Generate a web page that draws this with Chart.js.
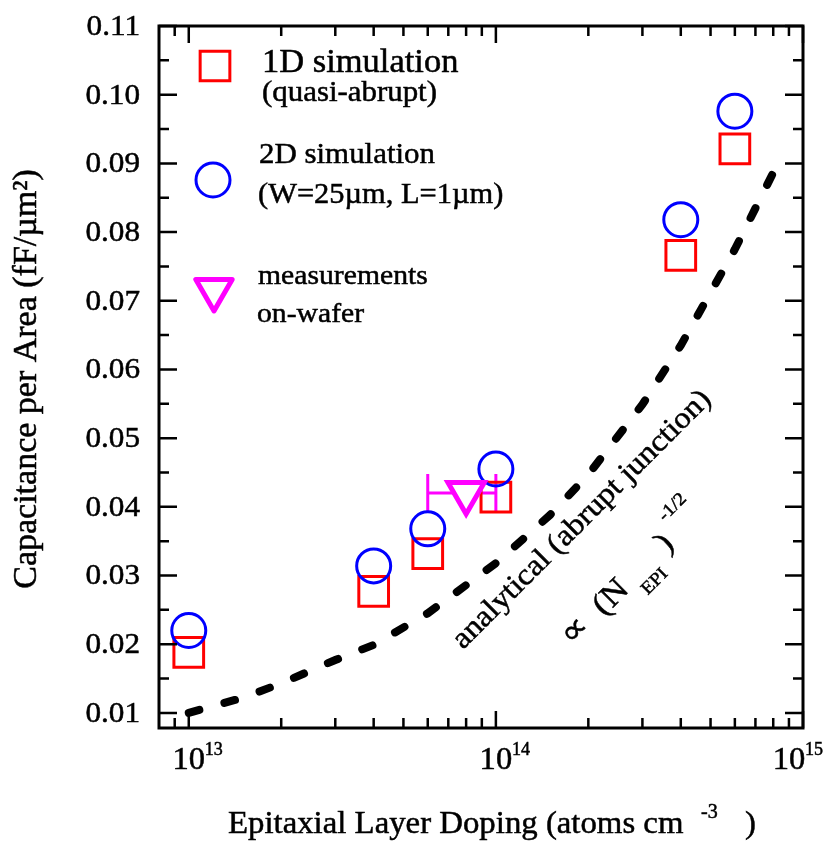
<!DOCTYPE html>
<html>
<head>
<meta charset="utf-8">
<script src="https://cdn.jsdelivr.net/npm/chart.js@4.4.1/dist/chart.umd.min.js"></script>
<style>
  body { margin: 0; background: #fff; }
  canvas { display: block; }
</style>
</head>
<body>
<canvas id="capChart" width="836" height="841"></canvas>
<script>
// doping levels (atoms cm^-3) and capacitance per area (fF/um^2)
const simDoping = [1e13, 4e13, 6e13, 1e14, 4e14, 6e14];
const sim1dCap = [0.0188, 0.0277, 0.0332, 0.0414, 0.0766, 0.0921];
const sim2dCap = [0.0220, 0.0314, 0.0368, 0.0455, 0.0818, 0.0976];

const measDoping = [8e13];
const measCap = [0.0420];
const measDopingLow = [6e13];
const measDopingHigh = [1e14];

const analyticalDoping = [1e13, 1.5e13, 2e13, 3e13, 4e13, 6e13, 1e14, 1.5e14, 2e14, 3e14, 4e14, 6e14, 8.5e14];
const analyticalCap = [0.0100, 0.0122, 0.0143, 0.0177, 0.0199, 0.0245, 0.0318, 0.0388, 0.0447, 0.0549, 0.0635, 0.0775, 0.0910];

const yTickValues = [0.01, 0.02, 0.03, 0.04, 0.05, 0.06, 0.07, 0.08, 0.09, 0.10, 0.11];
const xTickExponents = [13, 14, 15];

const SERIF = '"Liberation Serif", "Times New Roman", serif';

function pts(xs, ys) {
  return xs.map((x, i) => ({ x: x, y: ys[i] }));
}

// the original face runs a little wider and darker than Times
function txt(ctx, s, x, y, size, sx) {
  sx = sx || 1.05;
  ctx.save();
  ctx.font = size + 'px ' + SERIF;
  ctx.translate(x, y);
  ctx.scale(sx, 1);
  ctx.lineWidth = 0.5;
  ctx.strokeStyle = ctx.fillStyle;
  ctx.fillText(s, 0, 0);
  ctx.strokeText(s, 0, 0);
  const w = ctx.measureText(s).width * sx;
  ctx.restore();
  return w;
}

function drawMarker(ctx, style, x, y, r, color, lw) {
  ctx.save();
  ctx.strokeStyle = color;
  ctx.lineWidth = lw;
  ctx.fillStyle = '#fff';
  ctx.beginPath();
  if (style === 'rect') {
    const s = r * Math.SQRT1_2;
    ctx.rect(x - s, y - s, 2 * s, 2 * s);
  } else if (style === 'circle') {
    ctx.arc(x, y, r, 0, Math.PI * 2);
  } else {
    // downward triangle
    const h = Math.sin(Math.PI / 3) * r;
    ctx.moveTo(x, y + r);
    ctx.lineTo(x - h, y - r / 2);
    ctx.lineTo(x + h, y - r / 2);
    ctx.closePath();
    ctx.lineJoin = 'round';
    ctx.fill();
  }
  ctx.stroke();
  ctx.restore();
}

const errorBars = {
  id: 'errorBars',
  beforeDatasetsDraw(chart) {
    const ctx = chart.ctx;
    const xs = chart.scales.x, ys = chart.scales.y;
    ctx.save();
    ctx.strokeStyle = '#ff00ff';
    ctx.lineWidth = 3;
    measDoping.forEach((d, i) => {
      const y = ys.getPixelForValue(measCap[i]);
      const x0 = xs.getPixelForValue(measDopingLow[i]);
      const x1 = xs.getPixelForValue(measDopingHigh[i]);
      ctx.beginPath();
      ctx.moveTo(x0, y); ctx.lineTo(x1, y);
      ctx.moveTo(x0, y - 19); ctx.lineTo(x0, y + 18);
      ctx.moveTo(x1, y - 19); ctx.lineTo(x1, y + 18);
      ctx.stroke();
    });
    ctx.restore();
  }
};

const frameAndText = {
  id: 'frameAndText',
  afterDraw(chart) {
    const ctx = chart.ctx;
    const a = chart.chartArea;
    const xs = chart.scales.x, ys = chart.scales.y;
    ctx.save();
    ctx.strokeStyle = '#000';
    ctx.fillStyle = '#000';
    ctx.lineWidth = 3;
    ctx.strokeRect(a.left, a.top, a.right - a.left, a.bottom - a.top);

    // y ticks (left and right, pointing inward)
    ctx.lineWidth = 2.5;
    ctx.beginPath();
    for (let v = 0.01; v <= 0.1101; v += 0.005) {
      const y = ys.getPixelForValue(v);
      const major = Math.abs(v * 100 - Math.round(v * 100)) < 1e-6;
      const len = major ? 18 : 10;
      ctx.moveTo(a.left, y); ctx.lineTo(a.left + len, y);
      ctx.moveTo(a.right, y); ctx.lineTo(a.right - len, y);
    }
    // x ticks (bottom and top)
    for (let e = 12; e <= 15; e++) {
      for (let k = 1; k <= 9; k++) {
        const v = k * Math.pow(10, e);
        if (v < xs.min * 1.001 || v > xs.max * 1.001) continue;
        const x = xs.getPixelForValue(v);
        const len = k === 1 ? 17 : 10;
        ctx.moveTo(x, a.bottom); ctx.lineTo(x, a.bottom - len);
        ctx.moveTo(x, a.top); ctx.lineTo(x, a.top + len);
      }
    }
    ctx.stroke();

    // y tick labels
    ctx.textAlign = 'right';
    ctx.textBaseline = 'middle';
    yTickValues.forEach(v => {
      txt(ctx, v.toFixed(2), a.left - 19, ys.getPixelForValue(v) + 1, 30, 1.04);
    });

    // x tick labels 10^n (last one pulled in so it fits)
    ctx.textBaseline = 'alphabetic';
    xTickExponents.forEach((e, i) => {
      let x = xs.getPixelForValue(Math.pow(10, e));
      if (i === xTickExponents.length - 1) x -= 14;
      ctx.textAlign = 'center';
      txt(ctx, '10', x, 769, 31, 1.05);
      ctx.textAlign = 'left';
      txt(ctx, String(e), x + 16, 755, 18, 1.0);
    });

    // axis titles
    ctx.textAlign = 'left';
    txt(ctx, 'Epitaxial Layer Doping (atoms cm', 228, 833, 32, 1.025);
    txt(ctx, '-3', 701, 818, 20, 1.0);
    txt(ctx, ')', 745, 833, 32, 1.025);

    ctx.save();
    ctx.translate(36, 379);
    ctx.rotate(-Math.PI / 2);
    ctx.textAlign = 'center';
    txt(ctx, 'Capacitance per Area (fF/\u00b5m\u00b2)', 0, 0, 33, 1.03);
    ctx.restore();

    // legend
    drawMarker(ctx, 'rect', 215, 66, 21, '#ff0000', 3);
    drawMarker(ctx, 'circle', 213, 180, 17, '#0000ff', 3);
    drawMarker(ctx, 'tri', 214, 290, 21, '#ff00ff', 5);
    ctx.textAlign = 'left';
    txt(ctx, '1D simulation', 262, 72, 33, 1.045);
    txt(ctx, '(quasi-abrupt)', 262, 101, 29, 1.065);
    txt(ctx, '2D simulation', 259, 163, 30, 1.03);
    txt(ctx, '(W=25\u00b5m, L=1\u00b5m)', 258, 203, 29, 1.05);
    txt(ctx, 'measurements', 258, 284, 28, 1.06);
    txt(ctx, 'on-wafer', 257, 322, 28, 1.06);

    // rotated annotations
    ctx.save();
    ctx.translate(463, 650);
    ctx.rotate(-Math.PI / 4);
    txt(ctx, 'analytical (abrupt junction)', 0, 0, 30, 1.08);
    ctx.restore();

    ctx.save();
    ctx.translate(570, 645);
    ctx.rotate(-Math.PI / 4);
    txt(ctx, '\u221d', 0, 3, 34, 1.1);
    txt(ctx, '(N', 44, 4, 32, 1.1);
    txt(ctx, ')', 133, 4, 32, 1.1);
    txt(ctx, 'EPI', 90, 20, 18, 1.1);
    txt(ctx, '-1/2', 154, -20, 18, 1.1);
    ctx.restore();

    ctx.restore();
  }
};

new Chart(document.getElementById('capChart'), {
  type: 'scatter',
  data: {
    datasets: [
      {
        label: 'measurements on-wafer',
        data: pts(measDoping, measCap),
        pointStyle: 'triangle',
        rotation: 180,
        pointRadius: 21,
        borderColor: '#ff00ff',
        backgroundColor: '#ffffff',
        borderWidth: 5,
        order: 0
      },
      {
        label: '2D simulation',
        data: pts(simDoping, sim2dCap),
        pointStyle: 'circle',
        pointRadius: 17,
        borderColor: '#0000ff',
        backgroundColor: 'rgba(0,0,0,0)',
        borderWidth: 3,
        order: 1
      },
      {
        label: '1D simulation',
        data: pts(simDoping, sim1dCap),
        pointStyle: 'rect',
        pointRadius: 21,
        borderColor: '#ff0000',
        backgroundColor: 'rgba(0,0,0,0)',
        borderWidth: 3,
        order: 2
      },
      {
        label: 'analytical',
        data: pts(analyticalDoping, analyticalCap),
        showLine: true,
        pointRadius: 0,
        borderColor: '#000',
        borderWidth: 8,
        borderDash: [11, 26],
        borderCapStyle: 'round',
        tension: 0,
        order: 3
      }
    ]
  },
  options: {
    responsive: false,
    animation: false,
    devicePixelRatio: 1,
    layout: { padding: { left: 159, top: 22, right: 33, bottom: 113 } },
    plugins: { legend: { display: false }, tooltip: { enabled: false } },
    scales: {
      x: { type: 'logarithmic', min: 8e12, max: 1e15, display: false },
      y: { type: 'linear', min: 0.0078, max: 0.11, display: false }
    }
  },
  plugins: [errorBars, frameAndText]
});
</script>
</body>
</html>
